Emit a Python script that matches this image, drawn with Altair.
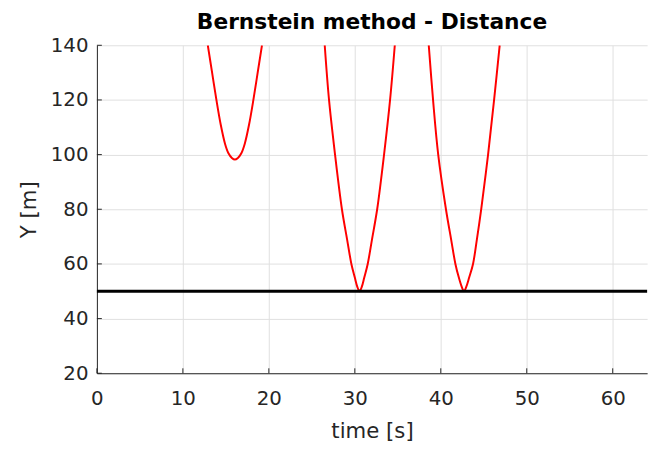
import altair as alt
import pandas as pd

# Red distance curves (time [s], Y [m])
c1_t = [12.9, 13.4, 13.9, 14.4, 14.9, 15.3, 15.7, 16.05, 16.4, 16.8, 17.2, 17.7, 18.2, 18.7, 19.2]
c1_y = [140, 130, 120, 111, 104, 100.5, 98.8, 98.2, 98.8, 100.5, 104, 111, 120, 130, 140]

c2_t = [26.5, 27.0, 27.7, 28.5, 29.1, 29.6, 30.0, 30.3, 30.55, 30.8, 31.1, 31.5, 32.0, 32.6, 33.4, 34.1, 34.65]
c2_y = [140, 120, 100, 80, 69, 60, 55, 51.5, 50, 51.5, 55, 60, 69, 80, 100, 120, 140]

c3_t = [38.6, 39.1, 39.7, 40.6, 41.2, 41.7, 42.1, 42.45, 42.7, 42.95, 43.3, 43.75, 44.2, 44.7, 45.5, 46.2, 46.85]
c3_y = [140, 120, 100, 80, 69, 60, 55, 51.5, 50, 51.5, 55, 60, 69, 80, 100, 120, 140]

threshold = [50]

x_ticks = [0, 10, 20, 30, 40, 50, 60]
y_ticks = [20, 40, 60, 80, 100, 120, 140]

rows = []
for name, ts, ys in [("c1", c1_t, c1_y), ("c2", c2_t, c2_y), ("c3", c3_t, c3_y)]:
    for i, (t, y) in enumerate(zip(ts, ys)):
        rows.append({"curve": name, "order": i, "t": t, "y": y})
curves = pd.DataFrame(rows)

W, H = 557, 332
FONT = "DejaVu Sans"
AX = "#262626"

xscale = alt.Scale(domain=[0, 64], nice=False, zero=False)
yscale = alt.Scale(domain=[20, 140], nice=False, zero=False)

xaxis = alt.Axis(values=x_ticks, title="time [s]", grid=True, ticks=False,
                 labelPadding=16, titlePadding=12, format="d", labelFlush=False)
yaxis = alt.Axis(values=y_ticks, title="Y [m]", grid=True, ticks=False,
                 labelPadding=9, titlePadding=10, format="d", labelFlush=False)

lines = alt.Chart(curves).mark_line(color="#ff0000", strokeWidth=2, clip=True,
                                     interpolate="catmull-rom").encode(
    x=alt.X("t:Q", scale=xscale, axis=xaxis),
    y=alt.Y("y:Q", scale=yscale, axis=yaxis),
    detail="curve:N",
    order="order:Q",
)

rule = alt.Chart(pd.DataFrame({"y": threshold})).mark_rule(
    color="black", strokeWidth=3).encode(y=alt.Y("y:Q", scale=yscale))

xt = alt.Chart(pd.DataFrame({"t": x_ticks})).mark_rule(color=AX, strokeWidth=1).encode(
    x=alt.X("t:Q", scale=xscale), y=alt.value(H), y2=alt.value(H - 5))
yt = alt.Chart(pd.DataFrame({"y": y_ticks})).mark_rule(color=AX, strokeWidth=1).encode(
    y=alt.Y("y:Q", scale=yscale), x=alt.value(0), x2=alt.value(5))

chart = alt.layer(lines, rule, xt, yt).properties(
    width=W, height=H,
    title=alt.TitleParams("Bernstein method - Distance", fontSize=22, font=FONT,
                          fontWeight="bold", color="black", anchor="middle",
                          baseline="bottom", frame="group", offset=0, dy=21),
    autosize=alt.AutoSizeParams(type="none"),
    padding={"left": 90, "top": 35, "right": 10, "bottom": 78},
).configure_view(stroke=None).configure_axis(
    domainColor=AX, domainWidth=1, gridColor="#e0e0e0", gridWidth=1,
    labelFont=FONT, labelFontSize=20, labelColor=AX,
    titleFont=FONT, titleFontSize=21.5, titleColor=AX, titleFontWeight="normal",
)

chart.save("out.html", embed_options={"renderer": "svg", "actions": False})
